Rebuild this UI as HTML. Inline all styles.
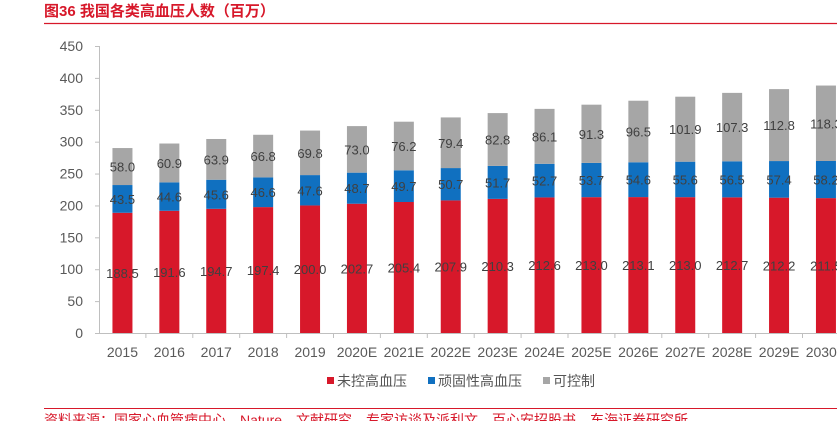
<!DOCTYPE html>
<html><head><meta charset="utf-8"><style>
body{margin:0;background:#fff;width:837px;height:421px;overflow:hidden;font-family:"Liberation Sans","Noto Sans CJK SC",sans-serif;}
</style></head><body>
<svg id="c" width="837" height="421" xmlns="http://www.w3.org/2000/svg">
<text x="44" y="16" fill="#d7182a" font-size="15" font-weight="bold" font-family="Liberation Sans,Noto Sans CJK SC,sans-serif">图36  我国各类高血压人数（百万）</text>
<line x1="44" y1="23.5" x2="837" y2="23.5" stroke="#d7182a" stroke-width="1.2"/>
<line x1="44" y1="408.5" x2="837" y2="408.5" stroke="#d7182a" stroke-width="1"/>
<text x="44" y="425" fill="#d7182a" font-size="14">资料来源：国家心血管病中心、Nature、文献研究、专家访谈及派利文，百心安招股书，东海证券研究所</text>
<g id="plot"></g>
<g>
<rect x="327" y="377" width="7" height="7" fill="#d7182a"/>
<text x="337" y="386" font-size="14" fill="#555">未控高血压</text>
<rect x="428" y="377" width="7" height="7" fill="#1070c0"/>
<text x="438" y="386" font-size="14" fill="#555">顽固性高血压</text>
<rect x="543" y="377" width="7" height="7" fill="#a6a6a6"/>
<text x="553" y="386" font-size="14" fill="#555">可控制</text>
</g>
</svg>
<script>
const categories=["2015","2016","2017","2018","2019","2020E","2021E","2022E","2023E","2024E","2025E","2026E","2027E","2028E","2029E","2030E"];
const uncontrolled=[188.5,191.6,194.7,197.4,200.0,202.7,205.4,207.9,210.3,212.6,213.0,213.1,213.0,212.7,212.2,211.5];
const resistant=[43.5,44.6,45.6,46.6,47.6,48.7,49.7,50.7,51.7,52.7,53.7,54.6,55.6,56.5,57.4,58.2];
const controllable=[58.0,60.9,63.9,66.8,69.8,73.0,76.2,79.4,82.8,86.1,91.3,96.5,101.9,107.3,112.8,118.3];
const yTicks=[0,50,100,150,200,250,300,350,400,450];
const NS="http://www.w3.org/2000/svg";
const g=document.getElementById('plot');
const y0=333,ppu=287/450,x0=99,step=46.9,bw=20;
const Y=v=>y0-v*ppu, X=i=>x0+step*(i+0.5);
function mk(t,a){const e=document.createElementNS(NS,t);for(const k in a)e.setAttribute(k,a[k]);g.appendChild(e);return e;}
const ax=mk('line',{x1:x0+0.5,y1:Y(450),x2:x0+0.5,y2:y0,stroke:'#bfbfbf'});

const bx=mk('line',{x1:x0,y1:y0+0.5,x2:837,y2:y0+0.5,stroke:'#bfbfbf'});

yTicks.forEach(v=>{
 const tk=mk('line',{x1:x0-4,x2:x0,y1:Y(v)+0.5,y2:Y(v)+0.5,stroke:'#bfbfbf'});
 
 const t=mk('text',{x:83,y:Y(v)+5,'text-anchor':'end','font-size':14,fill:'#595959'});t.textContent=v;
 
});
const series=[[uncontrolled,'#d7182a','uncontrolled'],[resistant,'#1070c0','resistant'],[controllable,'#a6a6a6','controllable']];
categories.forEach((c,i)=>{
 const tk=mk('line',{x1:x0+step*(i+1),x2:x0+step*(i+1),y1:y0,y2:y0+5,stroke:'#bfbfbf'});
 
 const t=mk('text',{x:X(i),y:y0+24,'text-anchor':'middle','font-size':14,fill:'#595959'});t.textContent=c;
 
 let base=0;
 series.forEach(([arr,col,nm])=>{
  const v=arr[i];
  const r=mk('rect',{x:X(i)-bw/2,y:Y(base+v),width:bw,height:v*ppu,fill:col});
  
  const l=mk('text',{x:X(i),y:Y(base+v/2)+5,'text-anchor':'middle','font-size':13,fill:'#404040'});
  l.textContent=v.toFixed(1);
  
  base+=v;
 });
});
</script>
</body></html>
